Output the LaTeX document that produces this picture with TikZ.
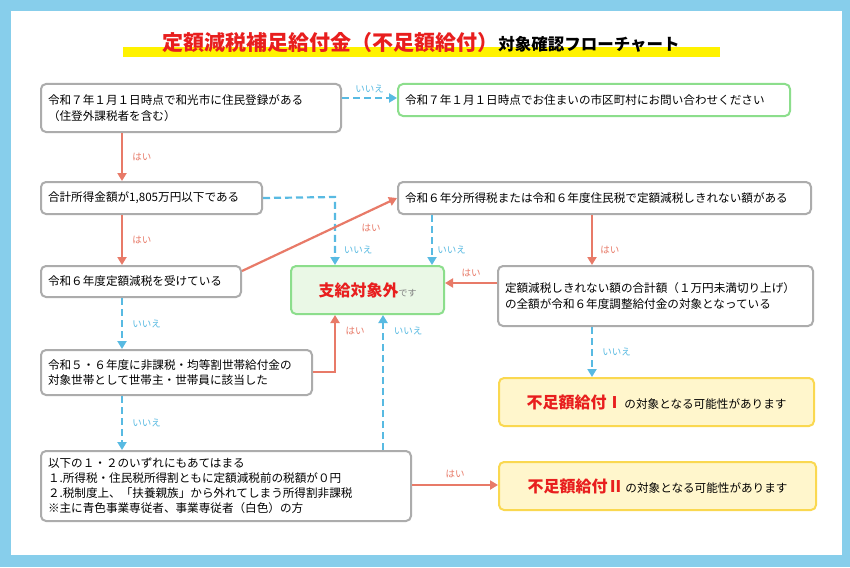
\documentclass[tikz,border=0pt]{standalone}
\usepackage{fontspec}
\setmainfont{Noto Sans CJK JP}
\usetikzlibrary{arrows.meta}
\definecolor{frameblue}{RGB}{135,206,235}
\definecolor{yesred}{RGB}{232,122,104}
\definecolor{noblue}{RGB}{88,186,226}
\definecolor{boxgray}{RGB}{172,172,172}
\definecolor{okgreen}{RGB}{140,222,140}
\definecolor{okfill}{RGB}{234,248,230}
\definecolor{ylwfill}{RGB}{255,246,204}
\definecolor{ylwline}{RGB}{250,216,80}
\definecolor{titred}{RGB}{232,30,30}
\tikzset{
  qbox/.style={draw=boxgray, line width=2pt, rounded corners=5pt, anchor=north west,
    align=left, inner xsep=7pt, font=\fontsize{11.6}{15.5}\selectfont},
  gbox/.style={qbox, draw=okgreen},
  ybox/.style={qbox, draw=ylwline, fill=ylwfill, align=center},
  yes/.style={draw=yesred, line width=2.2pt, -{Triangle[length=8pt,width=9pt]}},
  no/.style={draw=noblue, line width=2.2pt, dashed, dash pattern=on 7pt off 4pt, -{Triangle[length=8pt,width=9pt]}},
  yeslab/.style={text=yesred, font=\fontsize{9.5}{10}\selectfont},
  nolab/.style={text=noblue, font=\fontsize{9.5}{10}\selectfont},
}
\begin{document}
\begin{tikzpicture}[x=1pt,y=-1pt]
  \fill[frameblue] (0,0) rectangle (850,567);
  \fill[white] (11,11) rectangle (842,555);
  % title
  \fill[yellow] (123,47) rectangle (720,57);
  \node[anchor=base] (title) at (421,51) {{\fontsize{21}{22}\selectfont\bfseries\color{titred}定額減税補足給付金（不足額給付）}{\fontsize{16.5}{18}\selectfont\bfseries 対象確認フローチャート}};

  % boxes
  \node[qbox, minimum width=300pt, minimum height=48pt, text width=286pt] (reg) at (40,83)
    {令和７年１月１日時点で和光市に住民登録がある\\（住登外課税者を含む）};
  \node[gbox, minimum width=392pt, minimum height=32pt, text width=378pt] (ask) at (397,83)
    {令和７年１月１日時点でお住まいの市区町村にお問い合わせください};
  \node[qbox, minimum width=221pt, minimum height=32pt, text width=207pt] (inc) at (40,181)
    {合計所得金額が1,805万円以下である};
  \node[qbox, minimum width=413pt, minimum height=32pt, text width=399pt] (rem) at (397,181)
    {令和６年分所得税または令和６年度住民税で定額減税しきれない額がある};
  \node[qbox, minimum width=200pt, minimum height=31pt, text width=186pt] (got) at (40,265)
    {令和６年度定額減税を受けている};
  \node[gbox, fill=okfill, minimum width=153pt, minimum height=48pt, text width=139pt, align=center] (out) at (290,265)
    {{\fontsize{16}{18}\selectfont\bfseries\color{titred}支給対象外}{\fontsize{9}{10}\selectfont\color{gray}です}};
  \node[qbox, minimum width=315pt, minimum height=60pt, text width=301pt] (sum) at (497,265)
    {定額減税しきれない額の合計額（１万円未満切り上げ）\\の全額が令和６年度調整給付金の対象となっている\\[12pt]};
  \node[qbox, minimum width=271pt, minimum height=45pt, text width=257pt] (low) at (40,349)
    {令和５・６年度に非課税・均等割世帯給付金の\\対象世帯として世帯主・世帯員に該当した};
  \node[ybox, minimum width=315pt, minimum height=48pt, text width=301pt] (one) at (498,377)
    {{\fontsize{16}{18}\selectfont\bfseries\color{titred}不足額給付Ⅰ}\,の対象となる可能性があります};
  \node[qbox, minimum width=370pt, minimum height=70pt, text width=356pt, font=\fontsize{11.6}{15}\selectfont] (any) at (40,450)
    {以下の１・２のいずれにもあてはまる\\
     １.所得税・住民税所得割ともに定額減税前の税額が０円\\
     ２.税制度上、「扶養親族」から外れてしまう所得割非課税\\
     ※主に青色事業専従者、事業専従者（白色）の方};
  \node[ybox, minimum width=317pt, minimum height=48pt, text width=303pt] (two) at (498,461)
    {{\fontsize{16}{18}\selectfont\bfseries\color{titred}不足額給付Ⅱ}\,の対象となる可能性があります};

  % connectors
  \draw[no] (reg.east |- 0,98) -- (ask.west |- 0,98) node[nolab, midway, above=1pt] {いいえ};
  \draw[yes] (reg.south -| 122,0) -- (inc.north -| 122,0) node[yeslab, midway, right=6pt] {はい};
  \draw[no] (inc.east) -- (335,197) -- (out.north -| 335,0);
  \node[nolab] (lab1) at (358,250) {いいえ};
  \draw[yes] (inc.south -| 122,0) -- (got.north -| 122,0) node[yeslab, midway, right=6pt] {はい};
  \draw[yes] (got.north east) ++(0,6) -- (rem.west);
  \node[yeslab] (lab2) at (371,228) {はい};
  \draw[no] (rem.south -| 432,0) -- (out.north -| 432,0) node[nolab, pos=0.7, right=1pt] {いいえ};
  \draw[yes] (rem.south -| 592,0) -- (sum.north -| 592,0) node[yeslab, pos=0.7, right=4pt] {はい};
  \draw[yes] (sum.west |- 0,283) -- (out.east |- 0,283) node[yeslab, midway, above=2pt] {はい};
  \draw[no] (got.south -| 122,0) -- (low.north -| 122,0) node[nolab, midway, right=6pt] {いいえ};
  \draw[yes] (low.east |- 0,372) -- (335,372) -- (out.south -| 335,0);
  \node[yeslab] (lab3) at (355,331) {はい};
  \draw[no] (low.south -| 122,0) -- (any.north -| 122,0) node[nolab, midway, right=6pt] {いいえ};
  \draw[no] (any.north -| 383,0) -- (out.south -| 383,0);
  \node[nolab] (lab4) at (408,331) {いいえ};
  \draw[no] (sum.south -| 592,0) -- (one.north -| 592,0) node[nolab, midway, right=6pt] {いいえ};
  \draw[yes] (any.east |- 0,485) -- (two.west |- 0,485) node[yeslab, midway, above=3pt] {はい};
\end{tikzpicture}
\end{document}
